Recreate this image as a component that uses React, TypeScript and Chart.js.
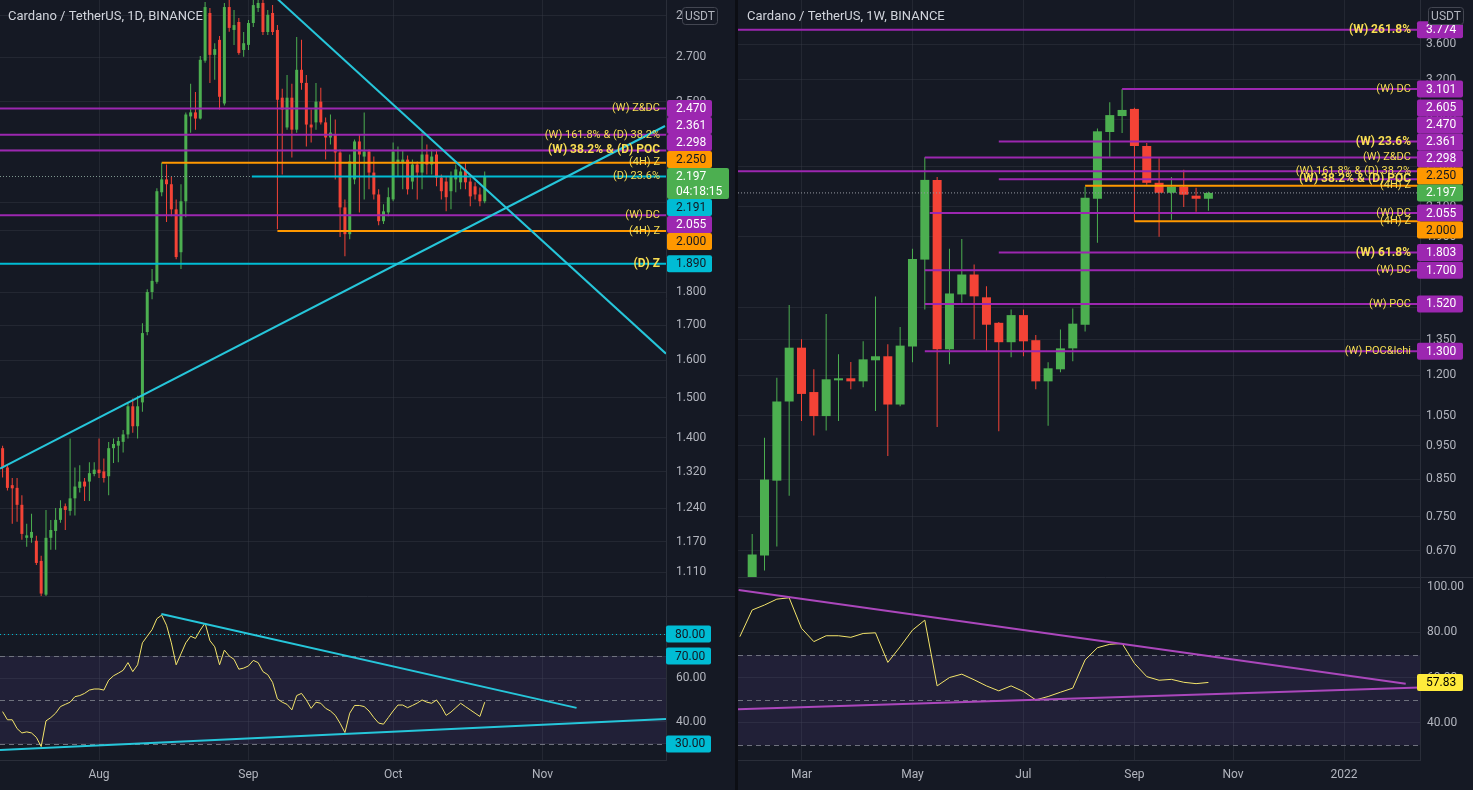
import React, { useEffect, useRef } from "react";
import { Chart, registerables } from "chart.js";

Chart.register(...registerables);

// ---------------- palette ----------------
const BG = "#151924";
const PAGE = "#0c0e14";
const GRID = "rgba(54,58,69,0.45)";
const BORDER = "#2a2e39";
const AXIS_TEXT = "#b2b5be";
const TITLE_TEXT = "#d1d4dc";
const UP = "#4caf50";
const DOWN = "#f44336";
const PURPLE = "#9c27b0";
const ORANGE = "#ff9800";
const TEAL = "#00bcd4";
const TREND_TEAL = "#26c6da";
const TREND_PURPLE = "#ab47bc";
const YELLOW_BOX = "#ffeb3b";
const DARK_TEXT = "#131722";
const LABEL_YELLOW = "#f7dd52";
const RSI_LINE = "#f3e46a";
const FONT = "Roboto, 'Noto Sans', Arial, sans-serif";

// ---------------- 1D chart data (day index 0 = 1 Aug 2021) ----------------
const D_START = -20;
const D_OPEN = [
  1.375, 1.33, 1.29, 1.284, 1.247, 1.178, 1.178, 1.172, 1.132, 1.068,
  1.178, 1.192, 1.215, 1.244, 1.234, 1.261, 1.284, 1.298, 1.298, 1.315,
  1.325, 1.321, 1.31, 1.375, 1.381, 1.39, 1.408, 1.478, 1.428, 1.488,
  1.68, 1.8, 1.832, 2.138, 2.186, 2.168, 2.076, 1.928, 2.105, 2.437,
  2.454, 2.428, 2.683, 2.913, 2.71, 2.781, 2.492, 2.943, 2.829, 2.868,
  2.733, 2.757, 2.863, 2.938, 2.964, 2.819, 2.913, 2.829, 2.517, 2.391,
  2.517, 2.382, 2.641, 2.582, 2.403, 2.412, 2.5, 2.412, 2.35, 2.362,
  2.29, 2.083, 1.989, 2.186, 2.334, 2.274, 2.294, 2.212, 2.13, 2.034,
  2.065, 2.112, 2.251, 2.251, 2.262, 2.178, 2.243, 2.212, 2.282, 2.243,
  2.282, 2.193, 2.178, 2.142, 2.186, 2.175, 2.224, 2.178, 2.16, 2.13,
  2.105,
];
const D_HIGH = [
  1.381, 1.335, 1.306, 1.306, 1.268, 1.207, 1.228, 1.182, 1.142, 1.236,
  1.215, 1.24, 1.257, 1.25, 1.398, 1.33, 1.335, 1.306, 1.342, 1.342,
  1.398, 1.351, 1.39, 1.398, 1.402, 1.419, 1.488, 1.498, 1.505, 1.706,
  1.809, 1.873, 2.153, 2.25, 2.243, 2.197, 2.112, 2.168, 2.453, 2.578,
  2.542, 2.705, 2.969, 2.938, 2.765, 2.8, 2.964, 3.0, 2.928, 2.888,
  2.819, 2.878, 3.1, 3.06, 3.05, 2.928, 2.953, 2.853, 2.556, 2.618,
  2.578, 2.795, 2.781, 2.618, 2.466, 2.582, 2.56, 2.432, 2.445, 2.424,
  2.302, 2.112, 2.282, 2.342, 2.362, 2.454, 2.302, 2.274, 2.149, 2.094,
  2.156, 2.33, 2.314, 2.298, 2.278, 2.262, 2.255, 2.37, 2.322, 2.302,
  2.302, 2.205, 2.197, 2.216, 2.243, 2.232, 2.251, 2.193, 2.175, 2.156,
  2.216,
];
const D_LOW = [
  1.307, 1.278, 1.207, 1.211, 1.174, 1.16, 1.168, 1.124, 1.02, 1.06,
  1.154, 1.154, 1.209, 1.194, 1.224, 1.224, 1.274, 1.255, 1.255, 1.31,
  1.306, 1.296, 1.268, 1.34, 1.342, 1.365, 1.398, 1.412, 1.398, 1.464,
  1.671, 1.778, 1.826, 2.123, 2.031, 2.051, 1.905, 1.873, 2.048, 2.369,
  2.382, 2.424, 2.673, 2.582, 2.596, 2.466, 2.483, 2.82, 2.757, 2.71,
  2.701, 2.733, 2.844, 2.918, 2.805, 2.805, 2.805, 2.006, 2.205, 2.382,
  2.27, 2.369, 2.552, 2.314, 2.33, 2.382, 2.403, 2.262, 2.322, 2.186,
  1.979, 1.915, 1.972, 2.168, 2.065, 2.112, 2.149, 2.112, 2.02, 2.024,
  2.051, 2.105, 2.197, 2.149, 2.13, 2.149, 2.112, 2.149, 2.205, 2.205,
  2.16, 2.112, 2.069, 2.076, 2.138, 2.149, 2.149, 2.087, 2.112, 2.087,
  2.098,
];
const D_CLOSE = [
  1.33, 1.284, 1.283, 1.247, 1.186, 1.183, 1.19, 1.128, 1.07, 1.178,
  1.194, 1.215, 1.24, 1.236, 1.261, 1.287, 1.298, 1.287, 1.317, 1.325,
  1.317, 1.306, 1.375, 1.385, 1.392, 1.408, 1.478, 1.428, 1.478, 1.677,
  1.8, 1.835, 2.142, 2.186, 2.168, 2.076, 1.912, 2.105, 2.445, 2.454,
  2.428, 2.687, 2.943, 2.71, 2.737, 2.521, 2.943, 2.839, 2.853, 2.719,
  2.765, 2.863, 2.953, 2.964, 2.819, 2.904, 2.819, 2.508, 2.466, 2.517,
  2.382, 2.641, 2.582, 2.403, 2.391, 2.5, 2.412, 2.35, 2.37, 2.29,
  2.083, 1.989, 2.255, 2.334, 2.282, 2.294, 2.212, 2.13, 2.034, 2.069,
  2.12, 2.294, 2.262, 2.262, 2.149, 2.243, 2.212, 2.282, 2.243, 2.274,
  2.193, 2.142, 2.12, 2.197, 2.224, 2.216, 2.175, 2.123, 2.13, 2.105,
  2.197,
];
const D_RSI = [
  44.7, 41, 41, 37, 35, 35.5, 35, 33, 28.8, 40.5,
  42, 44, 47, 48, 49, 51.5, 52, 53, 54.5, 55,
  55, 54.5, 59, 61, 62.2, 63.5, 67, 62.9, 66, 76,
  79, 82, 87, 88.6, 84, 76, 66, 71, 76, 79,
  78, 81.8, 85, 77, 74.2, 66, 72.7, 70, 68.5, 64,
  64.5, 65.5, 68, 67, 62.9, 61.5, 58, 50.5, 49, 48,
  45.5, 52, 53, 50, 46.2, 49, 48.5, 46.2, 45, 43,
  39.4, 35.2, 44, 47.5, 47.5, 47, 45, 42, 39.5, 39,
  42, 45, 47.7, 47.7, 46.5, 47.5, 48.6, 50, 49, 48.5,
  50, 47, 43, 44.5, 46.5, 48.5, 47, 45.5, 44, 42.5,
  49,
];
const D_MONTH_POS = [0, 31, 61, 92];
const D_MONTH_LABELS = ["Aug", "Sep", "Oct", "Nov"];
const D_PRICE_TICKS = [2.9, 2.7, 2.5, 2.3, 2.1, 2.0, 1.8, 1.7, 1.6, 1.5, 1.4, 1.32, 1.24, 1.17, 1.11];
const D_LEVEL_VALUES = [2.47, 2.361, 2.298, 2.25, 2.197, 2.055, 2.0, 1.89];
const D_LEVEL_NAMES = ["(W) Z&DC", "(W) 161.8% & (D) 38.2%", "(W) 38.2% & (D) POC", "(4H) Z", "(D) 23.6%", "(W) DC", "(4H) Z", "(D) Z"];
const D_LEVEL_FROM = [null, null, null, 13, 31.7, null, 37, null];
const D_LEVEL_COLORS = [PURPLE, PURPLE, PURPLE, ORANGE, TEAL, PURPLE, ORANGE, TEAL];
const D_LEVEL_BOLD = [false, false, true, false, false, false, false, true];
const D_AXIS_VALUES = [2.47, 2.361, 2.298, 2.25, 2.197, 2.191, 2.055, 2.0, 1.89];
const D_AXIS_KINDS = ["p", "p", "p", "o", "g", "t", "p", "o", "t"];
const D_CURRENT = 2.197;
const D_COUNTDOWN = "04:18:15";
// trend lines: [x1, price1, x2, price2]
const D_TRENDS = [
  [36.5, 2.996, 117.6, 1.6185],
  [-20.54, 1.3275, 117.4, 2.397],
];
const D_RSI_TICKS = [80, 70, 60, 40, 30];
const D_RSI_BOXES = [80, 70, 30];
const D_RSI_TRENDS = [
  [12.93, 89.1, 99.05, 46.4],
  [-20.54, 27.3, 117.6, 41.4],
];

// ---------------- 1W chart data (week index 0 = 1 Mar 2021) ----------------
const W_START = -4;
const W_OPEN = [
  0.4, 0.66, 0.846, 1.1, 1.315, 1.135, 1.048, 1.18, 1.188, 1.176,
  1.261, 1.278, 1.089, 1.32, 1.761, 2.294, 1.308, 1.569, 1.676, 1.554,
  1.428, 1.339, 1.465, 1.348, 1.176, 1.224, 1.312, 1.419, 2.155, 2.689,
  2.835, 2.903, 2.567, 2.272, 2.198, 2.243, 2.177, 2.155,
];
const W_HIGH = [
  0.709, 0.975, 1.19, 1.515, 1.352, 1.224, 1.47, 1.287, 1.254, 1.343,
  1.558, 1.33, 1.408, 1.825, 2.473, 2.317, 1.825, 1.885, 1.732, 1.612,
  1.432, 1.493, 1.493, 1.372, 1.253, 1.397, 1.498, 2.242, 2.721, 2.969,
  3.101, 2.913, 2.593, 2.465, 2.317, 2.372, 2.235, 2.205,
];
const W_LOW = [
  0.38, 0.628, 0.68, 0.805, 1.031, 0.983, 0.999, 1.031, 1.146, 1.153,
  1.066, 0.918, 1.083, 1.253, 1.493, 1.011, 1.245, 1.527, 1.352, 1.299,
  0.997, 1.274, 1.278, 1.146, 1.015, 1.212, 1.257, 1.388, 1.863, 2.473,
  2.68, 1.997, 2.257, 1.9, 2.01, 2.096, 2.064, 2.071,
];
const W_CLOSE = [
  0.662, 0.849, 1.1, 1.315, 1.128, 1.048, 1.184, 1.188, 1.176, 1.265,
  1.278, 1.089, 1.324, 1.764, 2.294, 1.308, 1.574, 1.676, 1.559, 1.419,
  1.339, 1.465, 1.343, 1.176, 1.228, 1.312, 1.424, 2.162, 2.695, 2.844,
  2.893, 2.567, 2.272, 2.198, 2.243, 2.184, 2.155, 2.197,
];
const W_RSI_START = -5;
const W_RSI = [
  78.1, 89.9, 92.1, 94.7, 95.3, 81.8, 75.9, 78.5, 78.5, 77.8,
  79.5, 79.8, 66.7, 73.6, 81, 85.4, 56.3, 60, 61.5, 59,
  56.3, 54.1, 56.3, 53.8, 50.1, 51.6, 53.5, 55.3, 67.8, 73.2,
  74.7, 75.1, 66.3, 60.4, 58.8, 59.2, 57.9, 57.3, 57.83,
];
const W_MONTH_POS = [0, 9, 18, 27, 35, 44];
const W_MONTH_LABELS = ["Mar", "May", "Jul", "Sep", "Nov", "2022"];
const W_PRICE_TICKS = [3.6, 3.2, 2.8, 2.4, 2.1, 1.9, 1.5, 1.35, 1.2, 1.05, 0.95, 0.85, 0.75, 0.67];
const W_LEVEL_VALUES = [3.774, 3.101, 2.605, 2.47, 2.361, 2.298, 2.25, 2.055, 2.0, 1.803, 1.7, 1.52, 1.3];
const W_LEVEL_NAMES = [
  "(W) 261.8%", "(W) DC", "(W) 23.6%", "(W) Z&DC", "(W) 161.8% & (D) 38.2%", "(W) 38.2% & (D) POC",
  "(4H) Z", "(W) DC", "(4H) Z", "(W) 61.8%", "(W) DC", "(W) POC", "(W) POC&Ichi",
];
const W_LEVEL_FROM = [null, 26, 16, 10, null, 16, 23, 10.4, 27, 16, 10, 10, 10];
const W_LEVEL_COLORS = [PURPLE, PURPLE, PURPLE, PURPLE, PURPLE, PURPLE, ORANGE, PURPLE, ORANGE, PURPLE, PURPLE, PURPLE, PURPLE];
const W_LEVEL_BOLD = [true, false, true, false, false, true, false, false, false, true, false, false, false];
const W_AXIS_VALUES = [3.774, 3.101, 2.605, 2.47, 2.361, 2.298, 2.25, 2.197, 2.055, 2.0, 1.803, 1.7, 1.52, 1.3];
const W_AXIS_KINDS = ["p", "p", "p", "p", "p", "p", "o", "g", "p", "o", "p", "p", "p", "p"];
const W_CURRENT = 2.197;
const W_RSI_TICKS = [100, 80, 60, 40];
const W_RSI_BOXES = [57.83];
const W_RSI_TRENDS = [
  [-5.1, 98.7, 49.0, 57.3],
  [-5.15, 46.0, 50.16, 55.6],
];

const RSI_DASHED = [70, 50, 30];
const RSI_BAND = [70, 30];

// ---------------- helpers ----------------
const KIND_STYLE: any = {
  p: { bg: PURPLE, fg: "#ffffff" },
  o: { bg: ORANGE, fg: DARK_TEXT },
  g: { bg: UP, fg: "#ffffff" },
  t: { bg: TEAL, fg: DARK_TEXT },
  y: { bg: YELLOW_BOX, fg: "#000000" },
};

function roundRect(ctx: any, x: number, y: number, w: number, h: number, r: number) {
  ctx.beginPath();
  ctx.moveTo(x + r, y);
  ctx.arcTo(x + w, y, x + w, y + h, r);
  ctx.arcTo(x + w, y + h, x, y + h, r);
  ctx.arcTo(x, y + h, x, y, r);
  ctx.arcTo(x, y, x + w, y, r);
  ctx.closePath();
}

const ROW = 17;
function drawAxisBoxes(chart: any, boxes: any[], pin: number, offset: number, width: number, wide: number) {
  const { ctx, chartArea: a } = chart;
  const y = chart.scales.y;
  const n = boxes.length;
  const hs = boxes.map((b) => (b.sub ? 31 : ROW));
  const want = boxes.map((b) => y.getPixelForValue(b.value) - ROW / 2);
  const tops = want.slice();
  const p = pin >= 0 ? pin : 0;
  for (let i = p - 1; i >= 0; i--) tops[i] = Math.min(want[i], tops[i + 1] - hs[i]);
  for (let i = p + 1; i < n; i++) tops[i] = Math.max(want[i], tops[i - 1] + hs[i - 1]);
  ctx.save();
  ctx.font = `12px ${FONT}`;
  ctx.textBaseline = "middle";
  ctx.textAlign = "left";
  boxes.forEach((b, i) => {
    const x = a.right + offset;
    const w = b.sub ? wide : width;
    ctx.fillStyle = b.bg;
    roundRect(ctx, x, tops[i], w, hs[i], 2);
    ctx.fill();
    ctx.fillStyle = b.fg;
    ctx.fillText(b.text, x + 9, tops[i] + ROW / 2 + 0.5);
    if (b.sub) ctx.fillText(b.sub, x + 9, tops[i] + 23.5);
  });
  ctx.restore();
}

function baseOptions() {
  return {
    responsive: false,
    animation: false,
    devicePixelRatio: 1,
    events: [],
    layout: { padding: 0, autoPadding: false },
    plugins: { legend: { display: false }, tooltip: { enabled: false } },
  };
}

function lineDs(points: any[], color: string, width: number, order: number, dash?: number[]) {
  return {
    type: "line",
    data: points,
    borderColor: color,
    borderWidth: width,
    borderDash: dash || [],
    pointRadius: 0,
    tension: 0,
    fill: false,
    order,
    clip: 0,
  };
}

function buildPriceConfig(p: any) {
  const xs = p.open.map((_: number, i: number) => p.start + i);
  const colors = p.open.map((o: number, i: number) => (p.close[i] >= o ? UP : DOWN));
  const datasets: any[] = [];
  p.trends.forEach((t: number[]) =>
    datasets.push(lineDs([{ x: t[0], y: t[1] }, { x: t[2], y: t[3] }], p.trendColor, 2, 0))
  );
  p.levelValues.forEach((v: number, i: number) => {
    const from = p.levelFrom[i] == null ? p.xMin : p.levelFrom[i];
    datasets.push(lineDs([{ x: from, y: v }, { x: p.xMax, y: v }], p.levelColors[i], 2, 1));
  });
  datasets.push(lineDs([{ x: p.xMin, y: p.current }, { x: p.xMax, y: p.current }], p.dotColor, 1, 3, [1, 2]));
  // wicks
  datasets.push({
    type: "bar",
    data: xs.map((x: number, i: number) => ({ x, y: [p.low[i], p.high[i]] })),
    backgroundColor: colors,
    borderWidth: 0,
    barThickness: 1,
    grouped: false,
    inflateAmount: 0,
    minBarLength: 1,
    order: 6,
  });
  // bodies
  datasets.push({
    type: "bar",
    data: xs.map((x: number, i: number) => ({ x, y: [p.open[i], p.close[i]] })),
    backgroundColor: colors,
    borderWidth: 0,
    barThickness: p.bodyWidth,
    grouped: false,
    inflateAmount: 0,
    minBarLength: 1,
    order: 5,
  });

  const boxes = p.axisValues.map((v: number, i: number) => {
    const st = KIND_STYLE[p.axisKinds[i]];
    return { value: v, text: v.toFixed(3), bg: st.bg, fg: st.fg, sub: p.axisKinds[i] === "g" && p.countdown ? p.countdown : null };
  });
  const pin = p.axisKinds.indexOf("g");

  const plugin = {
    id: "pricePane",
    beforeDraw(chart: any) {
      const ctx = chart.ctx;
      ctx.save();
      ctx.fillStyle = BG;
      ctx.fillRect(0, 0, chart.width, chart.height);
      ctx.restore();
    },
    afterDatasetsDraw(chart: any) {
      const { ctx, chartArea: a } = chart;
      const y = chart.scales.y;
      ctx.save();
      ctx.textAlign = "right";
      ctx.textBaseline = "middle";
      ctx.fillStyle = LABEL_YELLOW;
      p.levelValues.forEach((v: number, i: number) => {
        ctx.font = p.levelBold[i] ? `bold 12px ${FONT}` : `11px ${FONT}`;
        ctx.fillText(p.levelNames[i], a.right - p.labelPad, y.getPixelForValue(v));
      });
      ctx.restore();
    },
    afterDraw(chart: any) {
      const { ctx, chartArea: a } = chart;
      drawAxisBoxes(chart, boxes, pin, p.boxOffset, p.boxWidth, 62);
      // currency box
      ctx.save();
      const ux = a.right + p.usdtX;
      ctx.fillStyle = BG;
      roundRect(ctx, ux, 7, 36, 18, 3);
      ctx.fill();
      ctx.strokeStyle = "#434651";
      ctx.lineWidth = 1;
      roundRect(ctx, ux + 0.5, 7.5, 35, 17, 3);
      ctx.stroke();
      ctx.fillStyle = AXIS_TEXT;
      ctx.font = `12px ${FONT}`;
      ctx.textAlign = "center";
      ctx.textBaseline = "middle";
      ctx.fillText("USDT", ux + 18, 16.5);
      // title
      ctx.textAlign = "left";
      ctx.fillStyle = TITLE_TEXT;
      ctx.font = `13px ${FONT}`;
      ctx.fillText(p.title, p.titleX, 16.5);
      ctx.restore();
    },
  };

  return {
    type: "bar",
    data: { datasets },
    options: {
      ...baseOptions(),
      scales: {
        x: {
          type: "linear",
          min: p.xMin,
          max: p.xMax,
          offset: false,
          bounds: "data",
          afterBuildTicks: (s: any) => {
            s.ticks = p.months.map((v: number) => ({ value: v }));
          },
          ticks: { display: false, autoSkip: false },
          grid: { color: GRID, drawTicks: false, offset: false },
          border: { display: false },
          afterFit: (s: any) => {
            s.height = 0;
            s.paddingLeft = 0;
            s.paddingRight = 0;
          },
        },
        y: {
          type: "logarithmic",
          position: "right",
          min: p.yMin,
          max: p.yMax,
          bounds: "data",
          beginAtZero: false,
          afterBuildTicks: (s: any) => {
            s.ticks = p.ticks.map((v: number) => ({ value: v }));
          },
          ticks: {
            autoSkip: false,
            color: AXIS_TEXT,
            font: { family: FONT, size: 12 },
            padding: p.tickPad,
            callback: (v: any) => Number(v).toFixed(3),
          },
          grid: { color: GRID, drawTicks: false },
          border: { display: true, color: BORDER },
          afterFit: (s: any) => {
            s.width = p.axisWidth;
            s.paddingTop = 0;
            s.paddingBottom = 0;
          },
        },
      },
    },
    plugins: [plugin],
  };
}

function buildRsiConfig(r: any) {
  const datasets: any[] = [];
  r.trends.forEach((t: number[]) =>
    datasets.push(lineDs([{ x: t[0], y: t[1] }, { x: t[2], y: t[3] }], r.trendColor, 2, 0))
  );
  datasets.push(lineDs(r.values.map((v: number, i: number) => ({ x: r.start + i, y: v })), RSI_LINE, 1, 1));
  const boxes = r.boxes.map((v: number) => {
    const st = KIND_STYLE[r.boxKind];
    return { value: v, text: v.toFixed(2), bg: st.bg, fg: st.fg, sub: null };
  });
  const labelMap: any = {};
  r.months.forEach((m: number, i: number) => (labelMap[m] = r.monthLabels[i]));

  const plugin = {
    id: "rsiPane",
    beforeDraw(chart: any) {
      const ctx = chart.ctx;
      ctx.save();
      ctx.fillStyle = BG;
      ctx.fillRect(0, 0, chart.width, chart.height);
      ctx.restore();
    },
    beforeDatasetsDraw(chart: any) {
      const { ctx, chartArea: a } = chart;
      const y = chart.scales.y;
      ctx.save();
      ctx.beginPath();
      ctx.rect(a.left, a.top, a.width, a.height);
      ctx.clip();
      const yb1 = y.getPixelForValue(RSI_BAND[0]);
      const yb2 = y.getPixelForValue(RSI_BAND[1]);
      ctx.fillStyle = "rgba(126,87,194,0.12)";
      ctx.fillRect(a.left, yb1, a.width, yb2 - yb1);
      ctx.strokeStyle = "rgba(120,123,134,0.9)";
      ctx.lineWidth = 1;
      ctx.setLineDash([5, 4]);
      RSI_DASHED.forEach((v) => {
        const py = Math.round(y.getPixelForValue(v)) + 0.5;
        ctx.beginPath();
        ctx.moveTo(a.left, py);
        ctx.lineTo(a.right, py);
        ctx.stroke();
      });
      if (r.dottedLevel != null) {
        ctx.strokeStyle = TEAL;
        ctx.setLineDash([1, 3]);
        const py = Math.round(y.getPixelForValue(r.dottedLevel)) + 0.5;
        ctx.beginPath();
        ctx.moveTo(a.left, py);
        ctx.lineTo(a.right, py);
        ctx.stroke();
      }
      ctx.restore();
    },
    afterDraw(chart: any) {
      const ctx = chart.ctx;
      drawAxisBoxes(chart, boxes, -1, r.boxOffset, r.boxWidth, 62);
      ctx.save();
      ctx.strokeStyle = BORDER;
      ctx.lineWidth = 1;
      ctx.beginPath();
      ctx.moveTo(0, 0.5);
      ctx.lineTo(chart.width, 0.5);
      ctx.stroke();
      ctx.restore();
    },
  };

  return {
    type: "line",
    data: { datasets },
    options: {
      ...baseOptions(),
      scales: {
        x: {
          type: "linear",
          min: r.xMin,
          max: r.xMax,
          bounds: "data",
          afterBuildTicks: (s: any) => {
            s.ticks = r.months.map((v: number) => ({ value: v }));
          },
          ticks: {
            autoSkip: false,
            maxRotation: 0,
            color: AXIS_TEXT,
            font: { family: FONT, size: 12 },
            padding: 8,
            callback: (v: any) => labelMap[v],
          },
          grid: { color: GRID, drawTicks: false },
          border: { display: true, color: BORDER },
          afterFit: (s: any) => {
            s.height = 30;
            s.paddingLeft = 0;
            s.paddingRight = 0;
          },
        },
        y: {
          type: "linear",
          position: "right",
          min: r.yMin,
          max: r.yMax,
          bounds: "data",
          afterBuildTicks: (s: any) => {
            s.ticks = r.ticks.map((v: number) => ({ value: v }));
          },
          ticks: {
            autoSkip: false,
            color: AXIS_TEXT,
            font: { family: FONT, size: 12 },
            padding: r.tickPad,
            callback: (v: any) => Number(v).toFixed(2),
          },
          grid: { color: GRID, drawTicks: false },
          border: { display: true, color: BORDER },
          afterFit: (s: any) => {
            s.width = r.axisWidth;
            s.paddingTop = 0;
            s.paddingBottom = 0;
          },
        },
      },
    },
    plugins: [plugin],
  };
}

// ---------------- panel specs ----------------
const D_X_MIN = -20.54;
const D_X_MAX = 117.6;
const W_X_MIN = -5.15;
const W_X_MAX = 50.16;

const LEFT_PRICE = {
  title: "Cardano / TetherUS, 1D, BINANCE",
  titleX: 8,
  start: D_START, open: D_OPEN, high: D_HIGH, low: D_LOW, close: D_CLOSE,
  xMin: D_X_MIN, xMax: D_X_MAX, yMin: 1.0655, yMax: 2.979,
  ticks: D_PRICE_TICKS, months: D_MONTH_POS,
  levelValues: D_LEVEL_VALUES, levelNames: D_LEVEL_NAMES, levelFrom: D_LEVEL_FROM,
  levelColors: D_LEVEL_COLORS, levelBold: D_LEVEL_BOLD,
  axisValues: D_AXIS_VALUES, axisKinds: D_AXIS_KINDS, countdown: D_COUNTDOWN,
  current: D_CURRENT, dotColor: "#7d958d",
  trends: D_TRENDS, trendColor: TREND_TEAL,
  bodyWidth: 3, axisWidth: 69, tickPad: 10, boxOffset: 1, boxWidth: 45, labelPad: 6, usdtX: 16,
};

const RIGHT_PRICE = {
  title: "Cardano / TetherUS, 1W, BINANCE",
  titleX: 9,
  start: W_START, open: W_OPEN, high: W_HIGH, low: W_LOW, close: W_CLOSE,
  xMin: W_X_MIN, xMax: W_X_MAX, yMin: 0.6146, yMax: 4.166,
  ticks: W_PRICE_TICKS, months: W_MONTH_POS,
  levelValues: W_LEVEL_VALUES, levelNames: W_LEVEL_NAMES, levelFrom: W_LEVEL_FROM,
  levelColors: W_LEVEL_COLORS, levelBold: W_LEVEL_BOLD,
  axisValues: W_AXIS_VALUES, axisKinds: W_AXIS_KINDS, countdown: null,
  current: W_CURRENT, dotColor: "#9598a1",
  trends: [], trendColor: TREND_PURPLE,
  bodyWidth: 9, axisWidth: 53, tickPad: 6, boxOffset: -3, boxWidth: 46, labelPad: 9, usdtX: 8,
};

const LEFT_RSI = {
  start: D_START, values: D_RSI,
  xMin: D_X_MIN, xMax: D_X_MAX, yMin: 22.7, yMax: 97.3,
  ticks: D_RSI_TICKS, months: D_MONTH_POS, monthLabels: D_MONTH_LABELS,
  trends: D_RSI_TRENDS, trendColor: TREND_TEAL,
  boxes: D_RSI_BOXES, boxKind: "t", dottedLevel: 80,
  axisWidth: 69, tickPad: 10, boxOffset: 0, boxWidth: 45,
};

const RIGHT_RSI = {
  start: W_RSI_START, values: W_RSI,
  xMin: W_X_MIN, xMax: W_X_MAX, yMin: 23.5, yMax: 104.5,
  ticks: W_RSI_TICKS, months: W_MONTH_POS, monthLabels: W_MONTH_LABELS,
  trends: W_RSI_TRENDS, trendColor: TREND_PURPLE,
  boxes: W_RSI_BOXES, boxKind: "y", dottedLevel: null,
  axisWidth: 53, tickPad: 7, boxOffset: -3, boxWidth: 46,
};

// ---------------- components ----------------
function CanvasChart(props: any) {
  const { left, top, width, height, build } = props;
  const ref = useRef<HTMLCanvasElement | null>(null);
  useEffect(() => {
    if (!ref.current) return;
    const chart = new Chart(ref.current, build());
    return () => chart.destroy();
  }, []);
  return (
    <canvas
      ref={ref}
      width={width}
      height={height}
      style={{ position: "absolute", left, top, width, height, display: "block" }}
    />
  );
}

export default function App() {
  return (
    <div
      style={{
        position: "fixed",
        left: 0,
        top: 0,
        width: 1473,
        height: 790,
        background: PAGE,
        overflow: "hidden",
      }}
    >
      <CanvasChart left={0} top={0} width={735} height={596} build={() => buildPriceConfig(LEFT_PRICE)} />
      <CanvasChart left={0} top={596} width={735} height={194} build={() => buildRsiConfig(LEFT_RSI)} />
      <CanvasChart left={738} top={0} width={735} height={577} build={() => buildPriceConfig(RIGHT_PRICE)} />
      <CanvasChart left={738} top={577} width={735} height={213} build={() => buildRsiConfig(RIGHT_RSI)} />
    </div>
  );
}
